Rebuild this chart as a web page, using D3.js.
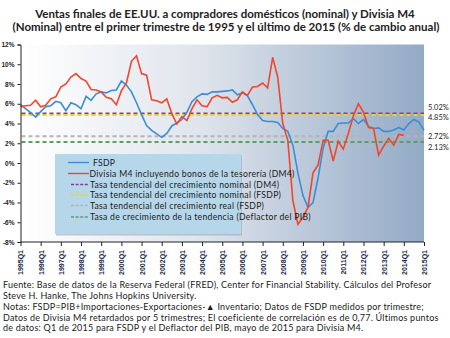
<!DOCTYPE html>
<html>
<head>
<meta charset="utf-8">
<script src="https://cdn.jsdelivr.net/npm/d3@7"></script>
<style>
  body { margin: 0; background: #fff; }
  svg { display: block; font-family: Lato, "Open Sans", sans-serif; }
</style>
</head>
<body>
<div class="chart"></div>
<script>

var width = 450,
  height = 338;

// DATA
var yearLabels = ['1995Q1','1996Q1','1997Q1','1998Q1','1999Q1','2000Q1','2001Q1','2002Q1',
  '2003Q1','2004Q1','2005Q1','2006Q1','2007Q1','2008Q1','2009Q1','2010Q1','2011Q1','2012Q1',
  '2013Q1','2014Q1','2015Q1'];

// FSDP, quarterly from 1995Q1 to 2015Q1
var fsdp = [5.9,5.5,5.1,4.65,5.2,5.7,5.8,6.25,6.1,5.3,6.1,5.9,5.5,6.75,6.35,7.0,7.2,7.1,7.35,7.4,8.3,
  7.9,7.2,6.1,4.9,3.8,3.3,2.95,2.6,3.0,3.75,4.05,4.4,5.15,6.2,6.7,7.0,6.95,7.2,7.2,7.25,
  7.3,7.4,6.9,7.1,6.8,5.9,4.9,4.3,4.2,4.2,4.1,3.5,3.2,1.8,-1.0,-3.3,-4.5,-4.0,-1.5,1.5,
  3.2,3.2,4.0,4.05,4.05,4.5,4.0,4.4,3.7,3.5,3.55,3.2,3.2,3.35,3.6,3.35,4.0,4.4,4.15,3.3];

// Divisia M4 (DM4), lagged 5 quarters
var dm4 = [5.7,5.8,5.85,6.35,5.7,5.85,6.5,6.7,7.7,8.0,8.7,9.05,8.55,8.3,7.45,7.4,7.2,6.65,6.5,5.9,7.3,
  8.1,10.3,10.85,9.05,8.9,6.4,6.3,6.1,6.5,5.0,3.95,4.7,4.3,5.5,6.4,5.8,5.7,6.6,6.85,6.6,
  6.65,6.15,6.4,7.2,6.85,7.7,7.75,8.1,7.6,10.7,8.7,4.0,2.3,-3.8,-6.2,-5.5,-4.5,-1.0,-0.2,2.3,
  2.3,0.2,2.2,1.4,3.0,4.8,6.0,5.15,3.6,3.5,0.8,1.7,2.5,1.8,2.9,2.8];

var trendNames = ['Tasa tendencial del crecimiento nominal (DM4)',
  'Tasa tendencial del crecimiento nominal (FSDP)',
  'Tasa tendencial del crecimiento real (FSDP)',
  'Tasa de crecimiento de la tendencia (Deflactor del PIB)'];
var trendValues = [5.02, 4.85, 2.72, 2.13];
var trendColors = ['#8a3a9c', '#f1d41c', '#b4b4b4', '#5e9e60'];

var yTicks = [-8,-6,-4,-2,0,2,4,6,8,10,12];

var svg = d3.select('.chart')
  .append('svg')
  .attr('width', width)
  .attr('height', height);

//TITLE
var title = svg.append('g').attr('font-weight', 700).attr('font-size', '11.5px').attr('fill', '#222')
  .attr('text-anchor', 'middle');
title.append('text').attr('x', 225).attr('y', 17.5)
  .text('Ventas finales de EE.UU. a compradores domésticos (nominal) y Divisia M4');
title.append('text').attr('x', 226).attr('y', 31)
  .text('(Nominal) entre el primer trimestre de 1995 y el último de 2015 (% de cambio anual)');

//SCALES
var xScale = d3.scaleLinear()
  .domain([0, 80]) //quarters since 1995Q1
  .range([20.5, 424]);

var yScale = d3.scaleLinear()
  .domain([-8, 12])
  .range([242, 44.5]);

//BACKGROUND
var defs = svg.append('defs');
var grad = defs.append('linearGradient').attr('id', 'bg')
  .attr('x1', '0%').attr('x2', '100%').attr('y1', '0%').attr('y2', '0%');
grad.append('stop').attr('offset', '0%').attr('stop-color', '#ffffff');
grad.append('stop').attr('offset', '45%').attr('stop-color', '#dfe4ec');
grad.append('stop').attr('offset', '100%').attr('stop-color', '#93aac6');

svg.append('rect')
  .attr('x', xScale(0))
  .attr('y', yScale(12))
  .attr('width', xScale(80) - xScale(0))
  .attr('height', yScale(-8) - yScale(12))
  .attr('fill', 'url(#bg)');

//TREND LINES
svg.selectAll('.trend')
  .data(trendValues)
  .enter()
  .append('line')
  .attr('class', 'trend')
  .attr('x1', xScale(0) + 1)
  .attr('x2', xScale(80))
  .attr('y1', function(d) { return yScale(d); })
  .attr('y2', function(d) { return yScale(d); })
  .attr('stroke', function(d, i) { return trendColors[i]; })
  .attr('stroke-width', 2)
  .attr('stroke-dasharray', '4,3');

// labels right of the plot, nudged apart
var labelShift = [-3, 4.7, 3.3, 8];
svg.selectAll('.trendLabel')
  .data(trendValues)
  .enter()
  .append('text')
  .attr('class', 'trendLabel')
  .attr('x', xScale(80) + 4)
  .attr('y', function(d, i) { return yScale(d) + labelShift[i]; })
  .attr('font-size', '7.5px')
  .attr('fill', '#222')
  .text(function(d) { return d.toFixed(2) + '%'; });

//LINES
var line = d3.line()
  .x(function(d, i) { return xScale(i); })
  .y(function(d) { return yScale(d); });

svg.append('path')
  .datum(fsdp)
  .attr('d', line)
  .attr('fill', 'none')
  .attr('stroke', '#3b8ed6')
  .attr('stroke-width', 1.6);

svg.append('path')
  .datum(dm4)
  .attr('d', line)
  .attr('fill', 'none')
  .attr('stroke', '#f0462c')
  .attr('stroke-width', 1.6);

//AXES
var yAxis = d3.axisLeft(yScale)
  .tickValues(yTicks)
  .tickSize(3)
  .tickFormat(function(d) { return d + '%'; });

var yAxisG = svg.append('g')
  .attr('class', 'yAxis')
  .attr('transform', 'translate(' + xScale(0) + ',0)')
  .call(yAxis);
yAxisG.selectAll('text').attr('font-size', '6.5px').attr('font-weight', 700).attr('fill', '#222');
yAxisG.selectAll('line, path').attr('stroke', '#222');

var xAxis = d3.axisBottom(xScale)
  .tickValues(d3.range(0, 81, 4))
  .tickSize(4)
  .tickFormat(function(d) { return yearLabels[d / 4]; });

var xAxisG = svg.append('g')
  .attr('class', 'xAxis')
  .attr('transform', 'translate(0,' + yScale(-8) + ')')
  .call(xAxis);
xAxisG.select('.domain').attr('d', 'M' + xScale(0) + ',0H' + xScale(80)).attr('stroke', '#222');
xAxisG.selectAll('line').attr('stroke', '#222');
xAxisG.selectAll('text')
  .attr('font-size', '7px')
  .attr('font-weight', 700)
  .attr('fill', '#1d2a4a')
  .attr('text-anchor', 'end')
  .attr('transform', 'rotate(-90)')
  .attr('x', -8)
  .attr('y', 0)
  .attr('dy', '0.35em');

//LEGEND
var legend = svg.append('g').attr('class', 'legend');
legend.append('rect')
  .attr('x', 56).attr('y', 155.5).attr('width', 186).attr('height', 80)
  .attr('fill', '#9aa6b4').attr('opacity', 0.6);
legend.append('rect')
  .attr('x', 55).attr('y', 154).attr('width', 186).attr('height', 80)
  .attr('fill', '#b6d7ea');

var legendItems = [
  {name: 'FSDP', color: '#3b8ed6', dash: null, y: 162.5, tx: 93},
  {name: 'Divisia M4 incluyendo bonos de la tesorería (DM4)', color: '#f0462c', dash: null, y: 173.5, tx: 89.5}
];
trendNames.forEach(function(n, i) {
  legendItems.push({name: n, color: trendColors[i], dash: '3,1.6', y: [184.5, 195, 205.5, 217][i], tx: 90});
});

var li = legend.selectAll('.item')
  .data(legendItems)
  .enter()
  .append('g')
  .attr('class', 'item');
li.append('line')
  .attr('x1', function(d) { return d.dash ? 71 : 68; })
  .attr('x2', 89)
  .attr('y1', function(d) { return d.y; })
  .attr('y2', function(d) { return d.y; })
  .attr('stroke', function(d) { return d.color; })
  .attr('stroke-width', function(d) { return d.dash ? 1.6 : 1.4; })
  .attr('stroke-dasharray', function(d) { return d.dash; });
li.append('text')
  .attr('x', function(d) { return d.tx; })
  .attr('y', function(d) { return d.y + 3.2; })
  .attr('font-size', '8.6px')
  .attr('letter-spacing', '0.3px')
  .attr('fill', '#1a1a1a')
  .text(function(d) { return d.name; });

//FOOTER
var notes = [
  'Fuente: Base de datos de la Reserva Federal (FRED), Center for Financial Stability. Cálculos del Profesor',
  'Steve H. Hanke, The Johns Hopkins University.',
  'Notas: FSDP=PIB+Importaciones-Exportaciones-\u25B2 Inventario; Datos de FSDP medidos por trimestre;',
  'Datos de Divisia M4 retardados por 5 trimestres; El coeficiente de correlación es de 0,77. Últimos puntos',
  'de datos: Q1 de 2015 para FSDP y el Deflactor del PIB, mayo de 2015 para Divisia M4.'
];
var noteY = [288, 298.5, 310, 320.5, 331];
svg.selectAll('.note')
  .data(notes)
  .enter()
  .append('text')
  .attr('class', 'note')
  .attr('x', 3)
  .attr('y', function(d, i) { return noteY[i]; })
  .attr('font-size', '9px')
  .attr('letter-spacing', '0.22px')
  .attr('fill', '#1a1a1a')
  .text(function(d) { return d; });

</script>
</body>
</html>
